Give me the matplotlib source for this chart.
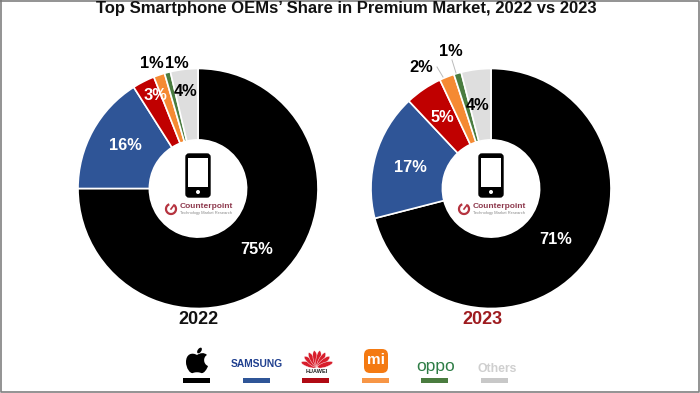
import matplotlib
matplotlib.use("Agg")
import matplotlib.pyplot as plt
from matplotlib.patches import Circle, Ellipse, FancyBboxPatch, Rectangle, Arc, PathPatch
from matplotlib.path import Path
import math

plt.rcParams['font.family'] = ['Liberation Sans', 'DejaVu Sans']

W, H = 700, 393
brands = ["Apple", "Samsung", "Huawei", "Xiaomi", "OPPO", "Others"]
colors = ["#000000", "#2F5597", "#C00000", "#F58A33", "#4A7C3F", "#DEDEDE"]
legend_colors = ["#000000", "#2F5597", "#B00A14", "#F79646", "#4A7C3F", "#C8C8C8"]
values_2022 = [75, 16, 3, 1.5, 0.8, 3.7]
values_2023 = [71, 17, 5, 2, 1, 4]
labels_2022 = ["75%", "16%", "3%", "1%", "1%", "4%"]
labels_2023 = ["71%", "17%", "5%", "2%", "1%", "4%"]
title = "Top Smartphone OEMs\u2019 Share in Premium Market, 2022 vs 2023"

fig = plt.figure(figsize=(W / 100, H / 100), dpi=100, facecolor="white")

def pie_axes(cx, cy, r):
    return fig.add_axes([(cx - r) / W, 1 - (cy + r) / H, 2 * r / W, 2 * r / H])

def donut(cx, cy, r, vals):
    ax = pie_axes(cx, cy, r)
    ax.pie(vals, colors=colors, startangle=90, counterclock=False, radius=1,
           wedgeprops=dict(width=0.595, edgecolor="white", linewidth=1.2))
    ax.set_xlim(-1, 1)
    ax.set_ylim(-1, 1)
    ax.set_aspect("equal")
    ax.axis("off")

CX1, CX2, CY, R = 198, 491, 188.5, 120
donut(CX1, CY, R, values_2022)
donut(CX2, CY, R, values_2023)

ov = fig.add_axes([0, 0, 1, 1], facecolor="none")
ov.set_xlim(0, W)
ov.set_ylim(H, 0)
ov.axis("off")

ov.text(346, 8.5, title, ha="center", va="center", fontsize=12, fontweight="bold", color="#111111")

def pct(x, y, s, c="black", fs=11.8):
    ov.text(x, y, s, ha="center", va="center", fontsize=fs, fontweight="bold", color=c)

for (x, y), s, c in zip([(257, 249), (125, 146), (155, 95), (152, 63), (177, 63), (186, 91)],
                        labels_2022, ["white", "white", "white", "black", "black", "black"]):
    pct(x, y, s, c)
for (x, y), s, c in zip([(556, 240), (410, 167), (442, 118), (421, 68), (451, 51), (478, 105)],
                        labels_2023, ["white", "white", "white", "black", "black", "black"]):
    pct(x, y, s, c)

ov.plot([437, 443], [67, 77], color="#BBBBBB", lw=0.7)
ov.plot([452, 456], [60, 73], color="#BBBBBB", lw=0.7)

ov.text(198, 320, "2022", ha="center", va="center", fontsize=13, fontweight="bold", color="#111111")
ov.text(482, 320, "2023", ha="center", va="center", fontsize=13, fontweight="bold", color="#9E1B1F")

def center_logo(cx):
    d = cx - 198
    ov.add_patch(FancyBboxPatch((186 + d, 154), 24, 43, boxstyle="round,pad=0,rounding_size=3",
                                fc="black", ec="black", lw=1))
    ov.add_patch(Rectangle((188 + d, 158), 20, 29, fc="white", ec="none"))
    ov.add_patch(Circle((198 + d, 192), 2, fc="white", ec="none"))
    ov.add_patch(Arc((171 + d, 209), 10, 10, theta1=-50, theta2=250, ec="#B5333F", lw=1.6))
    ov.plot([171 + d, 174 + d], [209, 205], color="#B5333F", lw=1.2)
    ov.text(180 + d, 206, "Counterpoint", ha="left", va="center", fontsize=6, fontweight="bold", color="#8E3A4E")
    ov.text(180 + d, 213, "Technology Market Research", ha="left", va="center", fontsize=2.9, color="#888888")

center_logo(CX1)
center_logo(CX2)

bar_x = [183, 243, 302, 362, 421, 481]
for x, c in zip(bar_x, legend_colors):
    ov.add_patch(Rectangle((x, 378), 27, 5, fc=c, ec="none"))

# Apple mark
apple = [(197, 355), (192, 352), (186, 354), (186, 362), (186, 368), (190, 374), (193, 373),
         (195, 372), (199, 372), (201, 373), (204, 374), (207, 369), (208, 366),
         (203, 364), (203, 357), (207, 355), (204, 352), (200, 353), (197, 355)]
codes = [Path.MOVETO] + [Path.CURVE4] * 18
ov.add_patch(PathPatch(Path(apple, codes), fc="black", ec="none"))
ov.add_patch(Ellipse((199.5, 350.5), 3.6, 6.5, angle=35, fc="black", ec="none"))

ov.text(257, 364, "SAMSUNG", ha="center", va="center", fontsize=7.4, fontweight="bold", color="#1F3F8F")

# Huawei petals
for a in [-72, -50, -30, -10, 10, 30, 50, 72]:
    t = math.radians(a)
    ov.add_patch(Ellipse((317 + 8.5 * math.sin(t), 367.5 - 9 * math.cos(t)), 4.8, 16, angle=a,
                         fc="#D81E2C", ec="white", lw=0.3))
ov.text(317, 371.5, "HUAWEI", ha="center", va="center", fontsize=4, fontweight="bold", color="#222222", zorder=4)

ov.add_patch(FancyBboxPatch((364, 349), 24, 24, boxstyle="round,pad=0,rounding_size=6", fc="#F47A12", ec="none"))
ov.text(376, 360.5, "mi", ha="center", va="center", fontsize=11, fontweight="bold", color="white")

ov.text(436, 366.5, "oppo", ha="center", va="center", fontsize=12.5, color="#2E7D46")
ov.text(497, 369, "Others", ha="center", va="center", fontsize=8.8, fontweight="bold", color="#CFCFCF")

# Frame round the slide
ov.plot([0.5, 699, 699, 0.5, 0.5], [0.5, 0.5, 392, 392, 0.5], color="#808080", lw=1.2, clip_on=False)

fig.savefig("out.png", dpi=100)
